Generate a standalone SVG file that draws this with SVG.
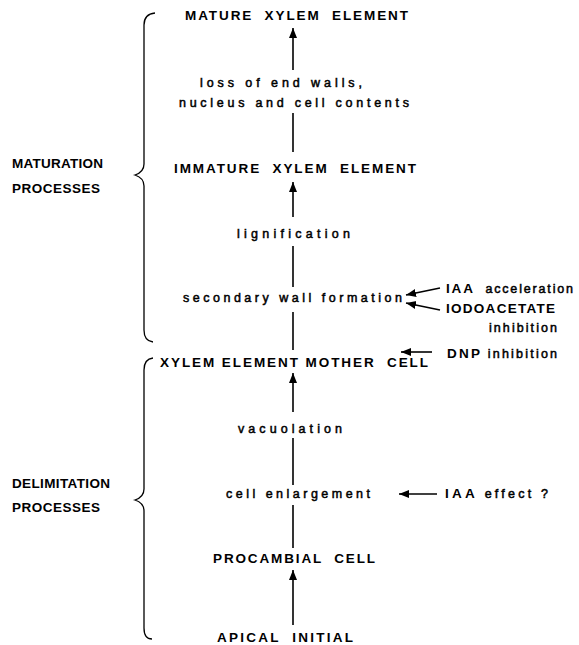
<svg xmlns="http://www.w3.org/2000/svg" width="579" height="645" viewBox="0 0 579 645" xml:space="preserve">
<style>
text{white-space:pre}
.cap{font-family:"Liberation Sans",Arial,sans-serif;font-weight:bold;font-size:13.5px;fill:#000}
.low{font-family:"Liberation Sans",Arial,sans-serif;font-weight:normal;font-size:12.5px;fill:#000;stroke:#000;stroke-width:0.5}
.ln{stroke:#000;stroke-width:1.6;fill:none}
.br{stroke:#000;stroke-width:1.3;fill:none}
</style>
<defs>
<marker id="ah" markerUnits="userSpaceOnUse" markerWidth="11" markerHeight="9" refX="10" refY="4" orient="auto">
<path d="M0,0 L10,4 L0,8 z" fill="#000"/>
</marker>
</defs>
<rect width="579" height="645" fill="#fff"/>
<g id="brace-maturation"><path class="br" d="M155,13 Q144,14 144,25 L144,164 Q144,172 135,175 Q144,178 144,186 L144,330 Q144,341 153,342"/></g>
<g id="brace-delimitation"><path class="br" d="M153,358 Q144,359 144,370 L144,489 Q144,497 135,500 Q144,503 144,511 L144,628 Q144,639 152,639"/></g>
<g id="label-maturation"><text class="cap" x="12" y="168" textLength="91" lengthAdjust="spacing">MATURATION</text><text class="cap" x="12" y="193" textLength="88" lengthAdjust="spacing">PROCESSES</text></g>
<g id="label-delimitation"><text class="cap" x="12" y="488" textLength="98" lengthAdjust="spacing">DELIMITATION</text><text class="cap" x="12" y="512" textLength="88" lengthAdjust="spacing">PROCESSES</text></g>
<g id="node-mature"><text class="cap" x="185" y="20" textLength="223" lengthAdjust="spacing">MATURE  XYLEM  ELEMENT</text></g>
<g id="step-loss"><text class="low" x="200" y="87" textLength="162" lengthAdjust="spacing">loss of end walls,</text><text class="low" x="179" y="107" textLength="230" lengthAdjust="spacing">nucleus and cell contents</text></g>
<g id="node-immature"><text class="cap" x="174" y="173" textLength="242" lengthAdjust="spacing">IMMATURE  XYLEM  ELEMENT</text></g>
<g id="step-lignification"><text class="low" x="237" y="238" textLength="113" lengthAdjust="spacing">lignification</text></g>
<g id="step-secondary-wall"><text class="low" x="183" y="302" textLength="219" lengthAdjust="spacing">secondary wall formation</text></g>
<g id="node-mother-cell"><text class="cap" x="160" y="367" textLength="268" lengthAdjust="spacing">XYLEM ELEMENT MOTHER  CELL</text></g>
<g id="step-vacuolation"><text class="low" x="238" y="433" textLength="104" lengthAdjust="spacing">vacuolation</text></g>
<g id="step-enlargement"><text class="low" x="226" y="498" textLength="144" lengthAdjust="spacing">cell enlargement</text></g>
<g id="node-procambial"><text class="cap" x="213" y="563" textLength="162" lengthAdjust="spacing">PROCAMBIAL  CELL</text></g>
<g id="node-apical"><text class="cap" x="217" y="642" textLength="136" lengthAdjust="spacing">APICAL  INITIAL</text></g>
<g id="factor-iaa-acceleration"><text x="446" y="293" textLength="127" lengthAdjust="spacing"><tspan class="cap">IAA</tspan><tspan class="low">  acceleration</tspan></text></g>
<g id="factor-iodoacetate"><text class="cap" x="446" y="313" textLength="109" lengthAdjust="spacing">IODOACETATE</text><text class="low" x="489" y="332" textLength="68" lengthAdjust="spacing">inhibition</text></g>
<g id="factor-dnp"><text x="447" y="358" textLength="110" lengthAdjust="spacing"><tspan class="cap">DNP</tspan><tspan class="low"> inhibition</tspan></text></g>
<g id="factor-iaa-effect"><text x="445" y="498" textLength="103" lengthAdjust="spacing"><tspan class="cap">IAA</tspan><tspan class="low"> effect ?</tspan></text></g>
<g id="connectors">
<line class="ln" x1="293" y1="70" x2="293" y2="28" marker-end="url(#ah)"/>
<line class="ln" x1="293" y1="113" x2="293" y2="152"/>
<line class="ln" x1="293" y1="217" x2="293" y2="182" marker-end="url(#ah)"/>
<line class="ln" x1="293" y1="246" x2="293" y2="287"/>
<line class="ln" x1="293" y1="312" x2="293" y2="350"/>
<line class="ln" x1="293" y1="412" x2="293" y2="373" marker-end="url(#ah)"/>
<line class="ln" x1="293" y1="438" x2="293" y2="485"/>
<line class="ln" x1="293" y1="505" x2="293" y2="548"/>
<line class="ln" x1="293" y1="625" x2="293" y2="570" marker-end="url(#ah)"/>
<line class="ln" x1="440" y1="288" x2="406" y2="295" marker-end="url(#ah)"/>
<line class="ln" x1="440" y1="310" x2="406" y2="303" marker-end="url(#ah)"/>
<line class="ln" x1="432" y1="352" x2="401" y2="352" marker-end="url(#ah)"/>
<line class="ln" x1="437" y1="494" x2="399" y2="494" marker-end="url(#ah)"/>
</g>
</svg>
